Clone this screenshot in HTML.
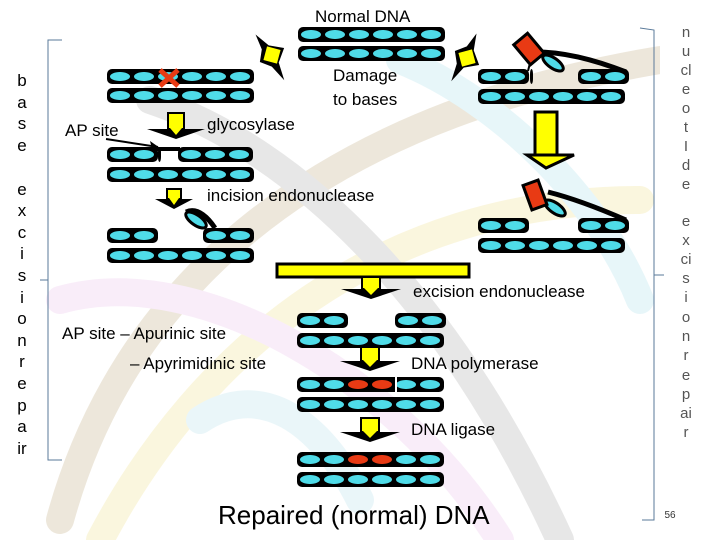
<!DOCTYPE html>
<html><head><meta charset="utf-8"><style>
html,body{margin:0;padding:0;width:720px;height:540px;overflow:hidden;background:#fff}
svg{display:block}
text{font-family:"Liberation Sans","DejaVu Sans",sans-serif}
</style></head><body>
<svg id="s" width="720" height="540" viewBox="0 0 720 540" xmlns="http://www.w3.org/2000/svg">
<rect width="720" height="540" fill="#fff"/>
<g opacity="0.18" fill="none" stroke-width="28" stroke-linecap="round">
<path d="M60 520 C 120 300, 300 120, 660 60" stroke="#a08040"/>
<path d="M100 540 C 200 350, 380 200, 640 200" stroke="#e8d050"/>
<path d="M150 100 C 300 150, 450 300, 560 540" stroke="#808080"/>
<path d="M60 300 C 200 260, 400 380, 500 540" stroke="#e0a0e0"/>
<path d="M400 60 C 500 100, 600 200, 640 300" stroke="#80d0e0"/>
<path d="M200 420 C 260 380, 320 420, 360 500" stroke="#90d0e0"/>
</g>
<rect x="0" y="0" width="40" height="540" fill="#fff"/>
<rect x="660" y="0" width="60" height="540" fill="#fff"/>
<g id="dna"></g>
<!-- brackets -->
<path d="M62 40 L48 40 L48 280 L40 280 M48 280 L48 460 L62 460" fill="none" stroke="#5a7a9a" stroke-width="1"/>
<path d="M640 28 L654 30 L654 275 L664 275 M654 275 L654 520 L642 520" fill="none" stroke="#5a7a9a" stroke-width="1"/>
<!-- left vertical text -->
<g font-size="17" fill="#000" text-anchor="middle">
<text x="22" y="86">b</text><text x="22" y="108">a</text><text x="22" y="129">s</text><text x="22" y="151">e</text>
<text x="22" y="195">e</text><text x="22" y="216">x</text><text x="22" y="238">c</text><text x="22" y="259">i</text>
<text x="22" y="281">s</text><text x="22" y="303">i</text><text x="22" y="324">o</text><text x="22" y="346">n</text>
<text x="22" y="367">r</text><text x="22" y="389">e</text><text x="22" y="411">p</text><text x="22" y="432">a</text><text x="22" y="454">ir</text>
</g>
<g font-size="15" fill="#555" text-anchor="middle">
<text x="686" y="37">n</text><text x="686" y="56">u</text><text x="686" y="75">cl</text><text x="686" y="94">e</text>
<text x="686" y="113">o</text><text x="686" y="132">t</text><text x="686" y="151">I</text><text x="686" y="170">d</text>
<text x="686" y="189">e</text>
<text x="686" y="226">e</text><text x="686" y="245">x</text><text x="686" y="264">ci</text><text x="686" y="283">s</text>
<text x="686" y="302">i</text><text x="686" y="322">o</text><text x="686" y="341">n</text><text x="686" y="360">r</text>
<text x="686" y="380">e</text><text x="686" y="399">p</text><text x="686" y="418">ai</text><text x="686" y="437">r</text>
</g>
<text x="670" y="518" font-size="10" fill="#333" text-anchor="middle">56</text>
<!-- labels -->
<g font-size="17" fill="#000">
<text x="315" y="22">Normal DNA</text>
<text x="333" y="81">Damage</text>
<text x="333" y="105">to bases</text>
<text x="65" y="136">AP site</text>
<text x="207" y="130">glycosylase</text>
<text x="207" y="201">incision endonuclease</text>
<text x="413" y="297">excision endonuclease</text>
<text x="62" y="339">AP site – Apurinic site</text>
<text x="130" y="369">– Apyrimidinic site</text>
<text x="411" y="369">DNA polymerase</text>
<text x="411" y="435">DNA ligase</text>
</g>
<text x="218" y="524" font-size="26" fill="#000">Repaired (normal) DNA</text>
<path d="M106 139 L158 147" stroke="#000" stroke-width="2"/>
<path d="M160 148 L150 141 L152 149 Z" fill="#000"/>
</svg>
<script>
var g=document.getElementById('dna');var NS='http://www.w3.org/2000/svg';
function el(t,a){var e=document.createElementNS(NS,t);for(var k in a)e.setAttribute(k,a[k]);g.appendChild(e);return e;}
var CY='#4fdbe8',RD='#e83a14',YL='#ffff00';
function strand(x,y,n,cols){el('rect',{x:x,y:y,width:24*n+3,height:15,rx:5,fill:'#000'});
for(var i=0;i<n;i++){el('ellipse',{cx:x+13+24*i,cy:y+7.5,rx:10,ry:4.5,fill:(cols&&cols[i])||CY});}}
function arrowS(x,y,w,h,hw){ // small yellow box + black head
el('rect',{x:x-w/2,y:y,width:w,height:h,fill:YL,stroke:'#000','stroke-width':2});
el('path',{d:'M'+(x-hw)+' '+(y+h)+' L'+(x+hw)+' '+(y+h)+' L'+x+' '+(y+h+10)+' Z',fill:'#000'});
el('path',{d:'M'+(x-w/2+2)+' '+(y+h-1)+' L'+(x+w/2-2)+' '+(y+h-1)+' L'+x+' '+(y+h+6)+' Z',fill:YL});}
// normal DNA
strand(298,27,6);strand(298,46,6);
// damaged
strand(107,69,6);strand(107,88,6);
el('path',{d:'M160 70 L178 86 M178 70 L160 86',stroke:RD,'stroke-width':5});
arrowS(176,113,16,16,29);
// AP site DNA
strand(107,147,2);strand(158,147,0);el('rect',{x:155,y:147,width:25,height:4,fill:'#000'});strand(178,147,3);strand(107,167,6);
arrowS(174,189,14,10,19);
// incision
strand(107,228,2);strand(203,228,2);strand(107,248,6);
el('path',{d:'M186 212 Q200 206 215 228',stroke:'#000','stroke-width':5,fill:'none'});
el('ellipse',{cx:196,cy:220,rx:12,ry:5,fill:CY,stroke:'#000','stroke-width':3,transform:'rotate(35 196 220)'});
// enzymes (yellow lightning)
function enz(cx,cy,rot){var t=el('g',{transform:'translate('+cx+' '+cy+') rotate('+rot+')'});
var p=document.createElementNS(NS,'path');p.setAttribute('d','M-4 -26 L2 -10 L14 0 L2 10 L-2 28 L-6 10 L-14 0 L-6 -10 Z');p.setAttribute('fill','#000');t.appendChild(p);
var r=document.createElementNS(NS,'rect');r.setAttribute('x',-7);r.setAttribute('y',-7);r.setAttribute('width',14);r.setAttribute('height',14);r.setAttribute('fill',YL);r.setAttribute('transform','rotate(45)');t.appendChild(r);}
enz(272,55,-30);enz(467,58,30);
// right DNA 1
strand(478,69,2);strand(530,69,0);strand(578,69,2);strand(478,89,6);
el('path',{d:'M528 52 Q570 50 626 72',stroke:'#000','stroke-width':5,fill:'none'});
el('ellipse',{cx:553,cy:63,rx:12,ry:5,fill:CY,stroke:'#000','stroke-width':3,transform:'rotate(35 553 63)'});
el('rect',{x:520,y:36,width:18,height:26,fill:RD,stroke:'#000','stroke-width':3,transform:'rotate(-40 529 49)'});
el('path',{d:'M530 63 L528 71',stroke:'#000','stroke-width':2});
// big yellow arrow
el('rect',{x:535,y:112,width:22,height:44,fill:YL,stroke:'#000','stroke-width':3});
el('path',{d:'M527 155 L574 155 L546 168 Z',fill:YL,stroke:'#000','stroke-width':3});
// right DNA 2
strand(478,218,2);strand(578,218,2);strand(478,238,6);
el('path',{d:'M548 192 Q580 200 626 220',stroke:'#000','stroke-width':5,fill:'none'});
el('ellipse',{cx:555,cy:208,rx:12,ry:5,fill:CY,stroke:'#000','stroke-width':3,transform:'rotate(35 555 208)'});
el('rect',{x:527,y:182,width:16,height:26,fill:RD,stroke:'#000','stroke-width':3,transform:'rotate(-20 535 195)'});
// long yellow bar
el('rect',{x:277,y:264,width:192,height:13,fill:YL,stroke:'#000','stroke-width':3});
arrowS(371,277,18,12,30);
// excision DNA
strand(297,313,2);strand(395,313,2);strand(297,333,6);
arrowS(370,347,18,14,30);
strand(297,377,6,[0,0,RD,RD]);strand(297,397,6);
el('rect',{x:395,y:377,width:2,height:15,fill:'#fff'});
arrowS(370,418,18,14,30);
strand(297,452,6,[0,0,RD,RD]);strand(297,472,6);
</script>
</body></html>
